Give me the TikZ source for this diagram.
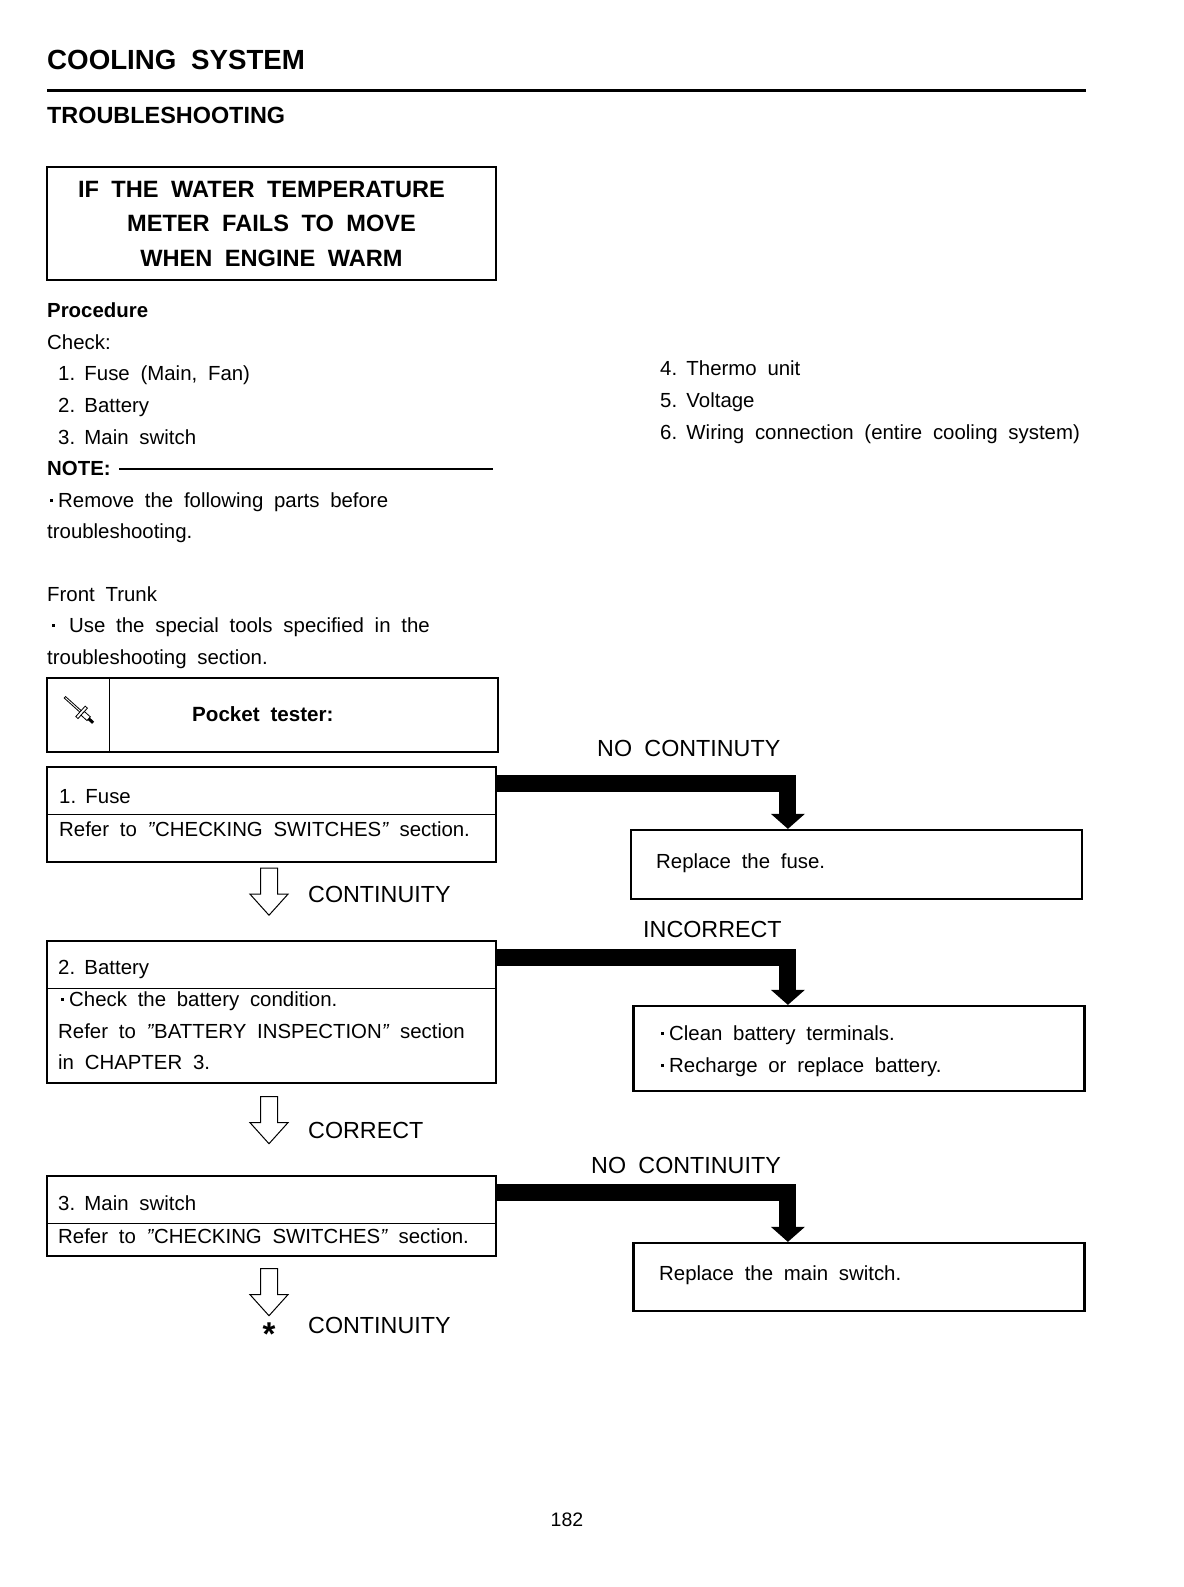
\documentclass[tikz,border=0pt]{standalone}
\usepackage{fontspec}
\setmainfont[WordSpace=1.9]{Liberation Sans}
\usetikzlibrary{shapes.arrows, arrows.meta, calc}
\newcommand{\qmark}{\textit{"}}
\newcommand{\tdot}{\kern2.5pt\rule[5.5pt]{3pt}{3pt}\kern5.5pt}
\newcommand{\numgap}{\kern-1.5pt\ }
\tikzset{
  box/.style={rectangle, draw=black, line width=2.2pt, inner sep=0pt},
  txt/.style={anchor=base west, inner sep=0pt, font=\fontsize{20.4}{26}\selectfont},
  lbl/.style={anchor=base west, inner sep=0pt, font=\fontsize{23.3}{28}\selectfont},
  divider/.style={black, line width=1pt},
  thickarrow/.style={-{Triangle[width=33pt,length=15pt]}, line width=17pt, line join=miter},
  hollow/.style={single arrow, draw=black, line width=1pt, shape border rotate=270, minimum height=47pt,
    text width=16pt, inner sep=0pt, single arrow head extend=10.5pt, single arrow tip angle=84}
}

\begin{document}
\begin{tikzpicture}[x=1pt, y=-1pt]
\useasboundingbox (0,0) rectangle (1183,1587);

% Headings
\node (title) [anchor=base west, inner sep=0pt, font=\fontsize{27.7}{32}\selectfont\bfseries] at (47,70) {COOLING SYSTEM};
\coordinate (ruleend) at (1086,90);
\draw [line width=3pt] (47,90) -- (ruleend);
\node (section) [anchor=base west, inner sep=0pt, font=\fontsize{23.4}{30}\selectfont\bfseries] at (47,123) {TROUBLESHOOTING};

% Symptom box
\node (symptom) [box, minimum width=449pt, minimum height=113pt, align=center, font=\fontsize{23.6}{34.5}\selectfont\bfseries] at (271.5,223.5)
  {IF THE WATER TEMPERATURE\hspace*{20pt}\\METER FAILS TO MOVE\\WHEN ENGINE WARM};

% Procedure text
\node (procedure) [txt, font=\fontsize{20.4}{26}\selectfont\bfseries] at (47,317) {Procedure};
\node (check) [txt] at (47,349) {Check:};
\node (item1) [txt] at (58,380) {1.\numgap Fuse (Main, Fan)};
\node (item2) [txt] at (58,412) {2.\numgap Battery};
\node (item3) [txt] at (58,444) {3.\numgap Main switch};
\node (note) [txt, font=\fontsize{20.4}{26}\selectfont\bfseries] at (47,475) {NOTE:};
\coordinate (noteend) at (493,468.5);
\draw [line width=2pt] (119,468.5) -- (noteend);
\node (remove) [txt] at (47,507) {\tdot Remove the following parts before};
\node (remove2) [txt] at (47,538) {troubleshooting.};
\node (trunk) [txt] at (47,601) {Front Trunk};
\node (tools) [txt] at (47,632) {\kern2pt\tdot\kern9pt Use the special tools specified in the};
\node (tools2) [txt] at (47,664) {troubleshooting section.};

\node (item4) [txt] at (660,375) {4.\numgap Thermo unit};
\node (item5) [txt] at (660,407) {5.\numgap Voltage};
\node (item6) [txt] at (660,439) {6.\numgap Wiring connection (entire cooling system)};

% Pocket tester
\node (pocket) [box, minimum width=451pt, minimum height=74pt] at (272.5,715) {};
\draw [divider] (pocket.north west -| 109,0) -- (pocket.south west -| 109,0);
\node (pocketlbl) [txt, font=\fontsize{20.6}{26}\selectfont\bfseries] at (192,721) {Pocket tester:};
\begin{scope}[shift={(79,710)}, rotate=-42, line width=0.8pt]
    \draw (-19,-1) rectangle (3,1);
    \draw[fill=white] (2,-7) rectangle (5,7);
    \draw[fill=white] (5,-2.5) rectangle (13,2.5);
    \fill (13,-1.5) rectangle (19,1.5);
\end{scope}

% Left column
\node (fuse) [box, minimum width=449pt, minimum height=95pt] at (271.5,814.5) {};
\draw [divider] (47,814) -- (496,814);
\node (fuse1) [txt] at (59,803) {1.\numgap Fuse};
\node (fuse2) [txt] at (59,836) {Refer to \qmark CHECKING SWITCHES\qmark{} section.};

\node (down1) [hollow] at (269,887) {};
\node (continuity1) [lbl] at (308,902) {CONTINUITY};

\node (battery) [box, minimum width=449pt, minimum height=142pt] at (271.5,1012) {};
\draw [divider] (47,988) -- (496,988);
\node (battery1) [txt] at (58,974) {2.\numgap Battery};
\node (battery2) [txt] at (58,1006) {\tdot Check the battery condition.};
\node (battery3) [txt] at (58,1038) {Refer to \qmark BATTERY INSPECTION\qmark{} section};
\node (battery4) [txt] at (58,1069) {in CHAPTER 3.};

\node (down2) [hollow] at (269,1115.5) {};
\node (correct) [lbl] at (308,1138) {CORRECT};

\node (mainsw) [box, minimum width=449pt, minimum height=80pt] at (271.5,1216) {};
\draw [divider] (47,1223.5) -- (496,1223.5);
\node (mainsw1) [txt] at (58,1210) {3.\numgap Main switch};
\node (mainsw2) [txt] at (58,1243) {Refer to \qmark CHECKING SWITCHES\qmark{} section.};

\node (down3) [hollow] at (269,1287.5) {};
\node (star) [inner sep=0pt, font=\fontsize{33}{36}\selectfont\bfseries] at (269,1334) {*};
\node (continuity2) [lbl] at (308,1333) {CONTINUITY};

% Right column
\node (nocont1) [lbl] at (597,756) {NO CONTINUTY};
\node (fixfuse) [box, minimum width=451pt, minimum height=69pt] at (856.5,864.5) {};
\node (fixfuse1) [txt] at (656,868) {Replace the fuse.};

\node (incorrect) [lbl] at (643,937) {INCORRECT};
\node (fixbattery) [box, minimum width=451pt, minimum height=85pt] at (859,1048.5) {};
\node (fixbattery1) [txt] at (658,1040) {\tdot Clean battery terminals.};
\node (fixbattery2) [txt] at (658,1072) {\tdot Recharge or replace battery.};

\node (nocont2) [lbl] at (591,1173) {NO CONTINUITY};
\node (fixmain) [box, minimum width=451pt, minimum height=68pt] at (859,1277) {};
\node (fixmain1) [txt] at (659,1280) {Replace the main switch.};

% Thick arrows
\draw [thickarrow] ($(fuse.north east)+(0,17.5)$) -| ($(fixfuse.north west)+(158,0)$);
\draw [thickarrow] ($(battery.north east)+(0,17.5)$) -| ($(fixbattery.north west)+(155.5,0)$);
\draw [thickarrow] ($(mainsw.north east)+(0,17.5)$) -| ($(fixmain.north west)+(155.5,0)$);

% Page number
\node (pagenum) [inner sep=0pt, font=\fontsize{19.5}{24}\selectfont] at (567,1520) {182};

\end{tikzpicture}
\end{document}
